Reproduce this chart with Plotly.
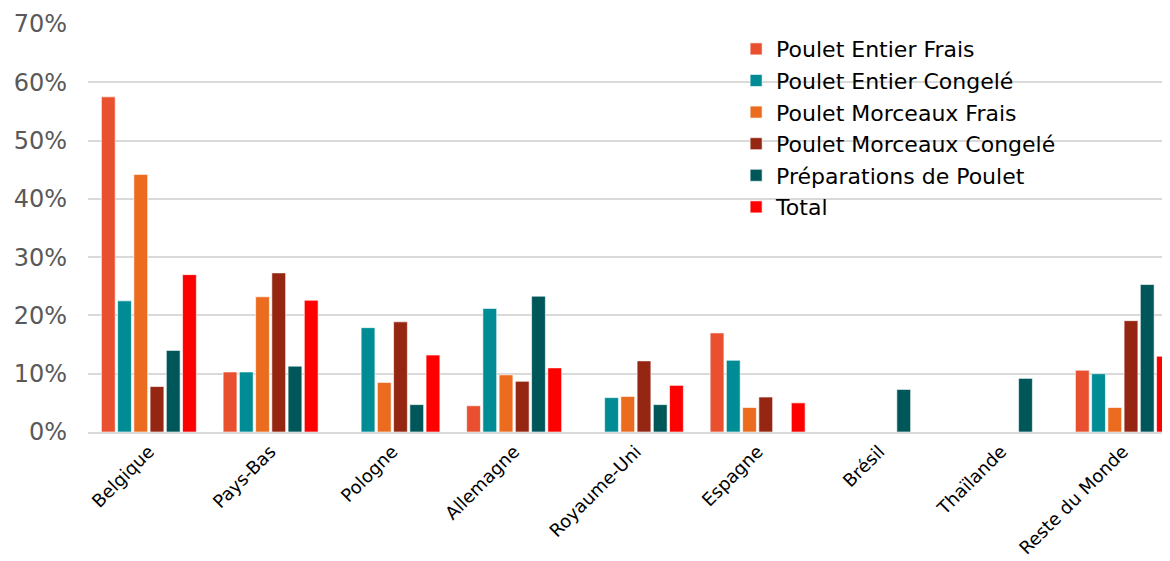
import plotly.graph_objects as go

categories = ["Belgique", "Pays-Bas", "Pologne", "Allemagne", "Royaume-Uni",
              "Espagne", "Brésil", "Thaïlande", "Reste du Monde"]

poulet_entier_frais = [57.5, 10.3, None, 4.5, None, 17.0, None, None, 10.6]
poulet_entier_congele = [22.5, 10.3, 17.9, 21.2, 5.9, 12.3, None, None, 10.0]
poulet_morceaux_frais = [44.2, 23.2, 8.5, 9.8, 6.1, 4.2, None, None, 4.2]
poulet_morceaux_congele = [7.8, 27.3, 18.9, 8.7, 12.2, 6.0, None, None, 19.1]
preparations_poulet = [14.0, 11.3, 4.7, 23.3, 4.7, None, 7.3, 9.2, 25.3]
total = [27.0, 22.6, 13.2, 11.0, 8.0, 5.0, None, None, 13.0]

series = [
    ("Poulet Entier Frais", poulet_entier_frais, "#E8502F"),
    ("Poulet Entier Congelé", poulet_entier_congele, "#008C94"),
    ("Poulet Morceaux Frais", poulet_morceaux_frais, "#EC6C1F"),
    ("Poulet Morceaux Congelé", poulet_morceaux_congele, "#952712"),
    ("Préparations de Poulet", preparations_poulet, "#005759"),
    ("Total", total, "#FF0000"),
]

fig = go.Figure()
for name, vals, color in series:
    fig.add_trace(go.Bar(
        name=name, x=categories,
        y=[v / 100 if v is not None else None for v in vals],
        marker=dict(color=color, line=dict(color="rgba(255,255,255,0.6)", width=1)),
        cliponaxis=True,
    ))

fig.update_layout(
    width=1162, height=553,
    margin=dict(l=80, r=0, t=16, b=129),
    plot_bgcolor="white", paper_bgcolor="white",
    barmode="group", bargap=0.2, bargroupgap=0.15,
    font=dict(family="DejaVu Sans", color="#000000"),
    legend=dict(x=0.599, y=0.99, xanchor="left", yanchor="top",
                font=dict(size=22, color="#000000"), bgcolor="rgba(0,0,0,0)",
                itemwidth=30, tracegroupgap=0),
    showlegend=True,
)
fig.update_yaxes(range=[0, 0.7], dtick=0.1, tickformat=".0%",
                 gridcolor="#D9D9D9", gridwidth=2, zeroline=False,
                 showline=False, ticks="", ticklen=0, ticklabelstandoff=20,
                 tickfont=dict(size=24, color="#595959"))
fig.update_xaxes(tickangle=-45, tickfont=dict(size=18, color="#000000"),
                 range=[-0.5, 8.387],
                 showline=True, linecolor="#D9D9D9", linewidth=2, ticks="")

fig.write_html("out.html")
